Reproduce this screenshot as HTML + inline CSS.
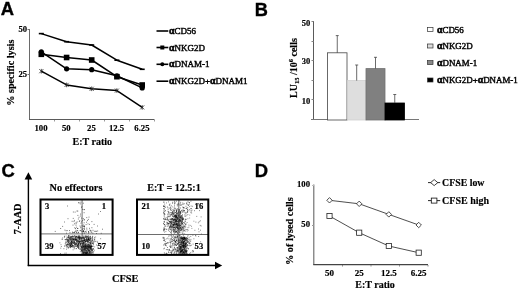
<!DOCTYPE html>
<html><head><meta charset="utf-8"><title>Figure</title>
<style>html,body{margin:0;padding:0;background:#fff}svg{display:block}</style></head>
<body><svg width="520" height="289" viewBox="0 0 520 289">
<rect width="520" height="289" fill="#fff"/>
<g>
<line x1="29.5" y1="29" x2="29.5" y2="120" stroke="#6a6a6a" stroke-width="1"/>
<line x1="29" y1="119.5" x2="154.5" y2="119.5" stroke="#5a5a5a" stroke-width="1"/>
<line x1="27.5" y1="29.5" x2="29.5" y2="29.5" stroke="#777" stroke-width="1"/>
<line x1="27.5" y1="74.5" x2="29.5" y2="74.5" stroke="#777" stroke-width="1"/>
<line x1="54.5" y1="120" x2="54.5" y2="121.5" stroke="#999" stroke-width="1"/>
<line x1="79.5" y1="120" x2="79.5" y2="121.5" stroke="#999" stroke-width="1"/>
<line x1="104.5" y1="120" x2="104.5" y2="121.5" stroke="#999" stroke-width="1"/>
<line x1="129.5" y1="120" x2="129.5" y2="121.5" stroke="#999" stroke-width="1"/>
<line x1="154.5" y1="120" x2="154.5" y2="121.5" stroke="#999" stroke-width="1"/>
<line x1="313.5" y1="21" x2="313.5" y2="120" stroke="#5a5a5a" stroke-width="1"/>
<line x1="311" y1="119.5" x2="419" y2="119.5" stroke="#777" stroke-width="1"/>
<line x1="311.5" y1="99.5" x2="313.5" y2="99.5" stroke="#888" stroke-width="1"/>
<line x1="311.5" y1="80.5" x2="313.5" y2="80.5" stroke="#888" stroke-width="1"/>
<line x1="311.5" y1="60.5" x2="313.5" y2="60.5" stroke="#888" stroke-width="1"/>
<line x1="311.5" y1="41.5" x2="313.5" y2="41.5" stroke="#888" stroke-width="1"/>
<line x1="311.5" y1="21.5" x2="313.5" y2="21.5" stroke="#888" stroke-width="1"/>
<line x1="313.8" y1="184.5" x2="313.8" y2="265" stroke="#666" stroke-width="1.1"/>
<line x1="313.3" y1="264.6" x2="428" y2="264.6" stroke="#444" stroke-width="1.3"/>
<line x1="312" y1="185.5" x2="314" y2="185.5" stroke="#bbb" stroke-width="1"/>
<line x1="312" y1="225.5" x2="314" y2="225.5" stroke="#999" stroke-width="1"/>
<line x1="342.5" y1="265" x2="342.5" y2="266.5" stroke="#888" stroke-width="1"/>
<line x1="371.0" y1="265" x2="371.0" y2="266.5" stroke="#888" stroke-width="1"/>
<line x1="399.5" y1="265" x2="399.5" y2="266.5" stroke="#888" stroke-width="1"/>
<line x1="428.0" y1="265" x2="428.0" y2="266.5" stroke="#888" stroke-width="1"/>
</g>
<g filter="url(#bl)">
<text x="0.8" y="14.8" font-size="18.4" text-anchor="start" style="font-family:'Liberation Sans',sans-serif;font-weight:bold" stroke="#000" stroke-width="0.35">A</text>
<text x="254.8" y="16.2" font-size="18.2" text-anchor="start" style="font-family:'Liberation Sans',sans-serif;font-weight:bold" stroke="#000" stroke-width="0.35">B</text>
<text x="1.6" y="177.4" font-size="18.4" text-anchor="start" style="font-family:'Liberation Sans',sans-serif;font-weight:bold" stroke="#000" stroke-width="0.35">C</text>
<text x="254.8" y="177.4" font-size="18.4" text-anchor="start" style="font-family:'Liberation Sans',sans-serif;font-weight:bold" stroke="#000" stroke-width="0.35">D</text>
<text x="27.1" y="32" font-size="8.6" text-anchor="end" style="font-family:'Liberation Serif',serif;font-weight:bold"  stroke="#000" stroke-width="0.18">50</text>
<text x="27.1" y="77" font-size="8.6" text-anchor="end" style="font-family:'Liberation Serif',serif;font-weight:bold"  stroke="#000" stroke-width="0.18">25</text>
<text transform="translate(14,72.7) rotate(-90)" font-size="10.2" text-anchor="middle" style="font-family:'Liberation Serif',serif;font-weight:bold" stroke="#000" stroke-width="0.18">% specific lysis</text>
<text x="41.0" y="131.4" font-size="8.7" text-anchor="middle" style="font-family:'Liberation Serif',serif;font-weight:bold"  stroke="#000" stroke-width="0.18">100</text>
<text x="66.3" y="131.4" font-size="8.7" text-anchor="middle" style="font-family:'Liberation Serif',serif;font-weight:bold"  stroke="#000" stroke-width="0.18">50</text>
<text x="91.4" y="131.4" font-size="8.7" text-anchor="middle" style="font-family:'Liberation Serif',serif;font-weight:bold"  stroke="#000" stroke-width="0.18">25</text>
<text x="116.60000000000001" y="131.4" font-size="8.7" text-anchor="middle" style="font-family:'Liberation Serif',serif;font-weight:bold"  stroke="#000" stroke-width="0.18">12.5</text>
<text x="141.89999999999998" y="131.4" font-size="8.7" text-anchor="middle" style="font-family:'Liberation Serif',serif;font-weight:bold"  stroke="#000" stroke-width="0.18">6.25</text>
<text x="92.3" y="145.4" font-size="10" text-anchor="middle" style="font-family:'Liberation Serif',serif;font-weight:bold"  stroke="#000" stroke-width="0.18">E:T ratio</text>
<polyline fill="none" stroke="#000" stroke-width="1.5" stroke-linejoin="round" points="41.3,33.6 66.6,41.7 91.7,45 116.9,60.2 142.2,69.3"/>
<line x1="38.8" y1="33.6" x2="43.8" y2="33.6" stroke="#000" stroke-width="1.6" />
<line x1="64.1" y1="41.7" x2="69.1" y2="41.7" stroke="#000" stroke-width="1.6" />
<line x1="89.2" y1="45" x2="94.2" y2="45" stroke="#000" stroke-width="1.6" />
<line x1="114.4" y1="60.2" x2="119.4" y2="60.2" stroke="#000" stroke-width="1.6" />
<line x1="139.7" y1="69.3" x2="144.7" y2="69.3" stroke="#000" stroke-width="1.6" />
<polyline fill="none" stroke="#000" stroke-width="1.5" stroke-linejoin="round" points="41.3,54.3 66.6,57.5 91.7,60 116.9,76.7 142.2,85"/>
<rect x="38.5" y="51.5" width="5.6" height="5.6" fill="#000"/>
<rect x="63.8" y="54.7" width="5.6" height="5.6" fill="#000"/>
<rect x="88.9" y="57.2" width="5.6" height="5.6" fill="#000"/>
<rect x="114.10000000000001" y="73.9" width="5.6" height="5.6" fill="#000"/>
<rect x="139.39999999999998" y="82.2" width="5.6" height="5.6" fill="#000"/>
<polyline fill="none" stroke="#000" stroke-width="1.5" stroke-linejoin="round" points="41.3,51.8 66.6,68.8 91.7,69.7 116.9,75.8 142.2,87.9"/>
<circle cx="41.3" cy="51.8" r="2.6" fill="#000"/>
<circle cx="66.6" cy="68.8" r="2.6" fill="#000"/>
<circle cx="91.7" cy="69.7" r="2.6" fill="#000"/>
<circle cx="116.9" cy="75.8" r="2.6" fill="#000"/>
<circle cx="142.2" cy="87.9" r="2.6" fill="#000"/>
<polyline fill="none" stroke="#000" stroke-width="1.5" stroke-linejoin="round" points="41.3,71.2 66.6,84.9 91.7,88.8 116.9,90.6 142.2,107.4"/>
<line x1="39.3" y1="69.2" x2="43.3" y2="73.2" stroke="#222" stroke-width="0.8" />
<line x1="39.3" y1="73.2" x2="43.3" y2="69.2" stroke="#222" stroke-width="0.8" />
<line x1="41.3" y1="68.9" x2="41.3" y2="73.5" stroke="#222" stroke-width="0.8" />
<line x1="64.6" y1="82.9" x2="68.6" y2="86.9" stroke="#222" stroke-width="0.8" />
<line x1="64.6" y1="86.9" x2="68.6" y2="82.9" stroke="#222" stroke-width="0.8" />
<line x1="66.6" y1="82.60000000000001" x2="66.6" y2="87.2" stroke="#222" stroke-width="0.8" />
<line x1="89.7" y1="86.8" x2="93.7" y2="90.8" stroke="#222" stroke-width="0.8" />
<line x1="89.7" y1="90.8" x2="93.7" y2="86.8" stroke="#222" stroke-width="0.8" />
<line x1="91.7" y1="86.5" x2="91.7" y2="91.1" stroke="#222" stroke-width="0.8" />
<line x1="114.9" y1="88.6" x2="118.9" y2="92.6" stroke="#222" stroke-width="0.8" />
<line x1="114.9" y1="92.6" x2="118.9" y2="88.6" stroke="#222" stroke-width="0.8" />
<line x1="116.9" y1="88.3" x2="116.9" y2="92.89999999999999" stroke="#222" stroke-width="0.8" />
<line x1="140.2" y1="105.4" x2="144.2" y2="109.4" stroke="#222" stroke-width="0.8" />
<line x1="140.2" y1="109.4" x2="144.2" y2="105.4" stroke="#222" stroke-width="0.8" />
<line x1="142.2" y1="105.10000000000001" x2="142.2" y2="109.7" stroke="#222" stroke-width="0.8" />
<line x1="156.5" y1="31" x2="168.3" y2="31" stroke="#000" stroke-width="1.6" />
<text x="169" y="34" font-size="9.0" text-anchor="start" style="font-family:'Liberation Serif',serif;font-weight:normal" stroke="#000" stroke-width="0.42"><tspan font-weight="bold" font-size="9.8" stroke-width="0.55">α</tspan>CD56</text>
<line x1="156.5" y1="47.5" x2="168.3" y2="47.5" stroke="#000" stroke-width="1.6" />
<text x="169" y="50.5" font-size="9.0" text-anchor="start" style="font-family:'Liberation Serif',serif;font-weight:normal" stroke="#000" stroke-width="0.42"><tspan font-weight="bold" font-size="9.8" stroke-width="0.55">α</tspan>NKG2D</text>
<line x1="156.5" y1="64.3" x2="168.3" y2="64.3" stroke="#000" stroke-width="1.6" />
<text x="169" y="67.3" font-size="9.0" text-anchor="start" style="font-family:'Liberation Serif',serif;font-weight:normal" stroke="#000" stroke-width="0.42"><tspan font-weight="bold" font-size="9.8" stroke-width="0.55">α</tspan>DNAM-1</text>
<line x1="156.5" y1="81.2" x2="168.3" y2="81.2" stroke="#000" stroke-width="1.6" />
<text x="169" y="84.2" font-size="9.0" text-anchor="start" style="font-family:'Liberation Serif',serif;font-weight:normal" stroke="#000" stroke-width="0.42"><tspan font-weight="bold" font-size="9.8" stroke-width="0.55">α</tspan>NKG2D+<tspan font-weight="bold" font-size="9.8" stroke-width="0.55">α</tspan>DNAM1</text>
<rect x="160.3" y="45.5" width="4" height="4" fill="#000"/>
<circle cx="162.3" cy="64.3" r="2" fill="#000"/>
<text x="310.2" y="25.8" font-size="8.5" text-anchor="end" style="font-family:'Liberation Serif',serif;font-weight:bold"  stroke="#000" stroke-width="0.18">50</text>
<text x="310.2" y="64.4" font-size="8.5" text-anchor="end" style="font-family:'Liberation Serif',serif;font-weight:bold"  stroke="#000" stroke-width="0.18">30</text>
<text x="310.2" y="103.7" font-size="8.5" text-anchor="end" style="font-family:'Liberation Serif',serif;font-weight:bold"  stroke="#000" stroke-width="0.18">10</text>
<text transform="translate(296.5,68.05) rotate(-90)" font-size="10" text-anchor="middle" style="font-family:'Liberation Serif',serif;font-weight:bold" stroke="#000" stroke-width="0.18">LU<tspan font-size="6.5" dy="2">15</tspan><tspan dy="-2"> /10</tspan><tspan font-size="6.5" dy="-4">6</tspan><tspan dy="4"> cells</tspan></text>
<rect x="327.5" y="52.8" width="19.5" height="67.2" fill="#fff" stroke="#444" stroke-width="0.8"/>
<line x1="337.25" y1="52.8" x2="337.25" y2="35.6" stroke="#444" stroke-width="0.8" />
<line x1="335.75" y1="35.6" x2="338.75" y2="35.6" stroke="#444" stroke-width="0.8" />
<rect x="347.4" y="80.6" width="18.600000000000023" height="39.400000000000006" fill="#dedede" stroke="#d0d0d0" stroke-width="0.8"/>
<line x1="356.7" y1="80.6" x2="356.7" y2="65" stroke="#444" stroke-width="0.8" />
<line x1="355.2" y1="65" x2="358.2" y2="65" stroke="#444" stroke-width="0.8" />
<rect x="366" y="68.6" width="19" height="51.400000000000006" fill="#808080" stroke="#707070" stroke-width="0.8"/>
<line x1="375.5" y1="68.6" x2="375.5" y2="57.3" stroke="#444" stroke-width="0.8" />
<line x1="374.0" y1="57.3" x2="377.0" y2="57.3" stroke="#444" stroke-width="0.8" />
<rect x="385" y="103" width="19.5" height="17" fill="#000" stroke="#000" stroke-width="0.8"/>
<line x1="394.75" y1="103" x2="394.75" y2="94.5" stroke="#444" stroke-width="0.8" />
<line x1="393.25" y1="94.5" x2="396.25" y2="94.5" stroke="#444" stroke-width="0.8" />
<rect x="427.5" y="27.6" width="5.5" height="4" fill="#fff" stroke="#333" stroke-width="0.7"/>
<text x="437" y="32.6" font-size="8.92" text-anchor="start" style="font-family:'Liberation Serif',serif;font-weight:normal" stroke="#000" stroke-width="0.42"><tspan font-weight="bold" font-size="9.8" stroke-width="0.55">α</tspan>CD56</text>
<rect x="427.5" y="44" width="5.5" height="4" fill="#dcdcdc" stroke="#333" stroke-width="0.7"/>
<text x="437" y="49" font-size="8.92" text-anchor="start" style="font-family:'Liberation Serif',serif;font-weight:normal" stroke="#000" stroke-width="0.42"><tspan font-weight="bold" font-size="9.8" stroke-width="0.55">α</tspan>NKG2D</text>
<rect x="427.5" y="60.6" width="5.5" height="4" fill="#888" stroke="#333" stroke-width="0.7"/>
<text x="437" y="65.6" font-size="8.92" text-anchor="start" style="font-family:'Liberation Serif',serif;font-weight:normal" stroke="#000" stroke-width="0.42"><tspan font-weight="bold" font-size="9.8" stroke-width="0.55">α</tspan>DNAM-1</text>
<rect x="427.5" y="78" width="5.5" height="4" fill="#000" stroke="#333" stroke-width="0.7"/>
<text x="437" y="83" font-size="8.92" text-anchor="start" style="font-family:'Liberation Serif',serif;font-weight:normal" stroke="#000" stroke-width="0.42"><tspan font-weight="bold" font-size="9.8" stroke-width="0.55">α</tspan>NKG2D+<tspan font-weight="bold" font-size="9.8" stroke-width="0.55">α</tspan>DNAM-1</text>
<line x1="28.4" y1="178" x2="28.4" y2="266.1" stroke="#000" stroke-width="1.4" />
<polygon points="28.4,172.2 24.6,179.6 32.2,179.6" fill="#000"/>
<line x1="27.7" y1="265.5" x2="216" y2="265.5" stroke="#000" stroke-width="1.3" />
<polygon points="222.2,265.5 215,261.7 215,269.3" fill="#000"/>
<text transform="translate(21.3,218.9) rotate(-90)" font-size="10.25" text-anchor="middle" style="font-family:'Liberation Serif',serif;font-weight:bold" stroke="#000" stroke-width="0.18">7-AAD</text>
<text x="125.2" y="281.7" font-size="10.4" text-anchor="middle" style="font-family:'Liberation Serif',serif;font-weight:bold"  stroke="#000" stroke-width="0.18">CFSE</text>
<text x="76" y="191.2" font-size="10.3" text-anchor="middle" style="font-family:'Liberation Serif',serif;font-weight:bold"  stroke="#000" stroke-width="0.18">No effectors</text>
<text x="174" y="191.2" font-size="10.1" text-anchor="middle" style="font-family:'Liberation Serif',serif;font-weight:bold"  stroke="#000" stroke-width="0.18">E:T = 12.5:1</text>
<path d="M76.4 238.2h.8M80.1 241.9h.8M67.4 237.3h.8M78.0 238.2h.8M84.5 240.1h.8M94.2 239.9h.8M71.6 245.6h.8M69.7 239.5h.8M81.2 238.6h.8M82.8 242.9h.8M77.5 245.4h.8M71.5 245.1h.8M84.2 240.2h.8M77.5 240.9h.8M66.7 240.9h.8M88.0 244.0h.8M78.7 246.9h.8M78.6 243.5h.8M86.0 239.2h.8M76.5 241.0h.8M71.6 244.7h.8M70.3 246.6h.8M67.2 246.1h.8M88.3 240.1h.8M78.8 236.2h.8M71.5 242.2h.8M81.7 240.8h.8M72.8 242.7h.8M78.2 235.8h.8M90.1 242.8h.8M76.2 243.3h.8M69.5 238.2h.8M75.5 237.8h.8M69.3 245.8h.8M83.0 240.6h.8M78.2 248.3h.8M78.0 237.3h.8M75.3 239.8h.8M69.3 237.4h.8M82.4 247.0h.8M88.2 239.4h.8M71.4 243.4h.8M75.7 248.6h.8M89.3 242.5h.8M71.3 236.4h.8M67.5 244.4h.8M87.6 247.6h.8M90.2 239.2h.8M72.5 247.3h.8M85.8 245.0h.8M67.4 242.8h.8M84.8 244.8h.8M76.6 237.9h.8M79.3 237.5h.8M72.1 246.7h.8M72.6 240.8h.8M75.0 236.2h.8M90.2 245.3h.8M79.8 237.1h.8M73.0 243.2h.8M72.8 246.3h.8M73.9 246.3h.8M79.1 241.4h.8M81.7 238.3h.8M67.4 240.7h.8M83.9 241.5h.8M81.0 241.8h.8M72.8 243.4h.8M81.3 238.8h.8M80.5 243.6h.8M76.6 246.1h.8M87.0 237.3h.8M83.7 237.0h.8M69.5 238.9h.8M67.6 244.4h.8M70.4 236.3h.8M90.1 246.3h.8M72.4 245.4h.8M69.4 240.4h.8M70.9 237.9h.8M80.6 239.8h.8M82.1 246.8h.8M87.4 239.0h.8M68.2 236.8h.8M79.9 238.0h.8M72.4 243.1h.8M71.4 241.3h.8M70.8 244.3h.8M69.4 245.2h.8M77.3 247.3h.8M75.0 239.7h.8M70.0 238.7h.8M73.9 240.9h.8M80.1 237.2h.8M75.7 242.3h.8M68.3 237.7h.8M85.9 245.7h.8M74.5 246.7h.8M76.7 241.7h.8M76.8 237.9h.8M68.7 237.2h.8M70.8 241.7h.8M74.1 242.0h.8M69.8 246.8h.8M90.2 246.4h.8M74.7 240.4h.8M77.9 241.6h.8M67.1 240.9h.8M69.3 238.8h.8M79.2 243.0h.8M86.0 239.0h.8M93.0 244.4h.8M69.7 241.2h.8M85.7 241.4h.8M81.0 243.6h.8M83.4 242.7h.8M73.5 240.2h.8M70.6 241.9h.8M86.9 240.8h.8M85.7 239.6h.8M68.6 240.0h.8M87.2 240.2h.8M77.9 241.3h.8M83.8 239.2h.8M84.9 237.6h.8M68.3 245.2h.8M83.4 242.4h.8M81.0 239.8h.8M91.7 241.1h.8M89.1 238.9h.8M73.2 242.2h.8M66.9 237.3h.8M84.4 243.7h.8M74.2 235.8h.8M65.4 239.5h.8M69.8 246.0h.8M89.4 237.2h.8M72.0 244.8h.8M74.9 237.1h.8M70.2 245.6h.8M73.1 239.4h.8M79.3 244.4h.8M85.8 240.9h.8M87.3 241.6h.8M85.1 236.1h.8M91.4 240.7h.8M74.2 236.3h.8M82.8 241.7h.8M71.7 246.6h.8M80.0 249.1h.8M78.9 237.7h.8M76.5 239.4h.8M83.1 239.6h.8M75.9 239.7h.8M67.9 240.1h.8M77.5 237.1h.8M73.8 242.0h.8M67.0 239.3h.8M83.2 246.2h.8M90.1 236.8h.8M70.8 244.6h.8M90.2 243.0h.8M78.0 244.6h.8M74.7 238.8h.8M70.2 245.2h.8M71.5 243.0h.8M77.0 237.7h.8M70.9 243.8h.8M88.0 239.0h.8M78.7 238.0h.8M84.6 236.2h.8M73.5 239.1h.8M86.8 237.2h.8M90.2 240.4h.8M72.6 245.6h.8M79.8 241.4h.8M84.4 240.3h.8M73.1 236.7h.8M66.0 247.1h.8M88.8 239.7h.8M73.9 235.9h.8M82.6 240.5h.8M72.4 240.0h.8M93.6 240.3h.8M77.1 239.2h.8M66.8 246.3h.8M69.7 238.1h.8M71.0 239.8h.8M86.8 238.6h.8M90.1 243.4h.8M74.9 244.4h.8M69.1 246.9h.8M76.7 242.6h.8M91.3 245.8h.8M87.9 238.4h.8M73.3 238.4h.8M72.0 236.1h.8M66.6 246.5h.8M90.3 237.0h.8M67.1 241.0h.8M71.0 244.2h.8M87.0 236.3h.8M87.5 241.5h.8M85.8 239.6h.8M72.3 238.9h.8M78.7 238.6h.8M80.1 244.3h.8M67.8 238.7h.8M88.3 239.1h.8M87.5 244.8h.8M92.2 243.7h.8M71.9 238.8h.8M71.6 237.5h.8M66.2 239.5h.8M75.6 243.8h.8M69.8 242.7h.8M83.7 244.0h.8M77.0 247.3h.8M73.5 240.3h.8M90.0 238.3h.8M85.2 246.0h.8M78.2 244.8h.8M78.7 242.3h.8M83.6 242.7h.8M75.4 239.2h.8M80.7 241.3h.8M88.1 237.4h.8M92.3 236.6h.8M87.7 244.3h.8M89.0 240.1h.8M78.7 236.6h.8M71.0 241.1h.8M70.1 247.5h.8M65.7 236.0h.8M89.5 243.1h.8M82.1 243.5h.8M76.8 240.0h.8M66.3 238.0h.8M86.4 237.1h.8M79.4 241.2h.8M67.6 237.1h.8M85.0 245.4h.8M81.5 240.7h.8M92.7 248.4h.8M85.7 246.2h.8M82.5 237.4h.8M87.2 239.8h.8M87.6 241.0h.8M88.5 247.1h.8M72.1 240.8h.8M68.3 246.9h.8M84.7 244.3h.8M67.8 239.8h.8M87.0 245.3h.8M71.7 240.4h.8M86.5 245.5h.8M76.2 237.0h.8M88.2 239.5h.8M85.0 243.2h.8M75.2 237.8h.8M80.8 246.4h.8M70.6 237.9h.8M66.6 240.4h.8M70.9 237.7h.8M81.8 246.4h.8M73.5 243.5h.8M89.1 238.1h.8M66.1 239.0h.8M79.8 244.9h.8M73.6 241.8h.8M77.2 245.0h.8M63.9 237.0h.8M70.6 242.4h.8M87.9 240.2h.8M70.2 242.8h.8M68.5 239.9h.8M84.5 237.5h.8M74.1 244.5h.8M85.7 237.8h.8M78.4 242.5h.8M71.2 236.5h.8M90.2 238.8h.8M87.9 239.2h.8M88.5 246.7h.8M82.0 245.4h.8M80.0 244.2h.8M77.6 238.2h.8M71.9 245.8h.8M71.3 246.3h.8M75.8 236.8h.8M82.8 243.0h.8M67.4 244.5h.8M87.9 245.3h.8M90.5 238.3h.8M72.6 245.4h.8M83.8 238.0h.8M71.6 239.4h.8M74.7 239.1h.8M73.8 238.7h.8M88.2 242.8h.8M66.4 245.1h.8M75.1 237.3h.8M90.9 239.0h.8M67.8 248.4h.8M65.4 244.9h.8M70.2 245.2h.8M74.7 238.2h.8M83.8 243.1h.8M69.6 243.2h.8M81.8 241.3h.8M92.0 237.6h.8M71.9 243.8h.8M77.3 240.7h.8M80.4 241.5h.8M75.3 245.8h.8M83.5 240.3h.8M85.7 240.9h.8M89.2 240.1h.8M85.1 237.4h.8M72.3 239.0h.8M76.7 246.6h.8M70.2 240.2h.8M92.3 239.3h.8M71.4 238.1h.8M78.2 245.0h.8M82.2 241.2h.8M69.3 243.6h.8M87.9 244.8h.8M77.9 247.3h.8M85.4 241.7h.8M81.8 243.2h.8M67.2 244.7h.8M82.7 242.2h.8M80.6 247.1h.8M70.1 239.0h.8M79.7 242.0h.8M71.7 239.5h.8M67.9 243.4h.8M78.0 240.4h.8M78.2 243.4h.8M76.9 246.3h.8M77.0 240.8h.8M66.0 244.3h.8M75.7 244.9h.8M89.5 244.7h.8M77.0 245.1h.8M86.1 241.4h.8M74.0 242.9h.8M88.1 238.4h.8M82.7 241.4h.8M88.1 239.9h.8M77.7 244.1h.8M74.1 242.2h.8M76.3 239.0h.8M90.5 244.9h.8M89.8 244.6h.8M83.1 246.5h.8M83.4 238.2h.8M73.1 236.9h.8M89.8 245.2h.8M82.6 244.4h.8M87.2 243.1h.8M80.2 244.7h.8M80.8 238.4h.8M80.9 238.2h.8M77.4 245.5h.8M68.1 241.3h.8M84.4 239.9h.8M92.9 243.7h.8M66.0 245.3h.8M77.0 241.3h.8M91.8 243.3h.8M76.4 240.6h.8M80.3 240.2h.8M74.9 238.7h.8M86.2 239.8h.8M81.8 244.5h.8M74.8 243.3h.8M83.0 243.7h.8M88.7 239.4h.8M68.4 244.9h.8M84.2 240.7h.8M80.8 241.5h.8M84.5 242.6h.8M86.8 237.0h.8M88.2 239.4h.8M88.0 237.7h.8M73.4 241.3h.8M83.5 242.2h.8M70.0 243.7h.8M89.7 240.4h.8M85.7 240.3h.8M79.0 239.4h.8M70.9 243.6h.8M70.7 245.5h.8M72.6 239.0h.8M85.5 244.9h.8M86.3 235.8h.8M82.3 245.2h.8M75.7 236.0h.8M74.7 244.9h.8M80.5 242.8h.8M77.6 244.3h.8M74.8 239.6h.8M77.5 242.3h.8M81.0 247.1h.8M85.2 241.9h.8M92.4 238.4h.8M78.8 243.0h.8M84.2 238.2h.8M66.9 243.6h.8M87.7 245.0h.8M88.6 238.2h.8M89.1 244.6h.8M77.3 245.5h.8M72.0 236.4h.8M81.4 237.4h.8M73.4 239.4h.8M70.1 237.1h.8M84.0 240.6h.8M78.1 237.9h.8M71.1 241.4h.8M76.2 236.6h.8M91.4 243.4h.8M87.8 241.0h.8M80.4 246.9h.8M86.7 239.1h.8M83.2 245.6h.8M88.6 236.4h.8M72.3 237.1h.8M82.1 245.6h.8M91.6 241.0h.8M71.1 242.1h.8M85.2 240.0h.8M80.3 249.1h.8M73.7 240.2h.8M86.1 245.4h.8M69.9 247.7h.8M83.3 245.7h.8M69.1 238.2h.8M79.6 238.4h.8M86.3 238.4h.8M68.9 246.0h.8M89.3 240.7h.8M72.0 242.2h.8M76.8 242.9h.8M83.4 237.4h.8M84.1 245.4h.8M72.9 239.4h.8M87.5 242.0h.8M75.6 246.5h.8M70.2 237.6h.8M78.7 239.1h.8M81.4 246.0h.8M68.7 238.9h.8M84.0 239.0h.8M86.7 236.7h.8M86.9 240.8h.8M90.2 239.0h.8M71.8 236.8h.8M70.7 242.3h.8M74.4 245.2h.8M86.4 236.6h.8M83.3 237.7h.8M85.8 247.2h.8M82.6 241.6h.8M88.7 245.8h.8M76.9 243.4h.8M65.5 241.6h.8M69.4 243.8h.8M74.7 243.4h.8M71.1 239.8h.8M78.0 236.2h.8M91.3 237.9h.8M73.4 237.0h.8M84.6 242.9h.8M79.1 237.1h.8M88.6 237.2h.8M78.1 237.5h.8M78.5 246.5h.8M68.5 237.2h.8M89.0 240.4h.8M86.5 246.2h.8M85.8 240.4h.8M80.6 245.8h.8M87.7 241.5h.8M92.0 240.5h.8M81.6 237.9h.8M77.5 237.7h.8M91.8 240.7h.8M82.8 240.7h.8M82.4 238.3h.8M76.6 240.3h.8M74.2 242.2h.8M89.7 241.2h.8M80.8 238.0h.8M73.3 239.3h.8M66.4 242.2h.8M80.7 243.3h.8M76.5 240.9h.8M74.8 242.4h.8M76.4 239.9h.8M88.7 242.8h.8M75.4 244.5h.8M73.7 241.8h.8M67.3 244.8h.8M70.3 246.7h.8M70.1 244.3h.8M84.0 240.3h.8M85.4 239.6h.8M91.3 242.6h.8M81.3 240.4h.8M88.0 239.3h.8M76.0 239.8h.8M75.4 239.3h.8M87.7 240.0h.8M71.3 242.9h.8M84.4 240.9h.8M90.1 236.3h.8M77.8 236.6h.8M77.7 244.6h.8M82.3 241.8h.8M83.0 243.2h.8M77.9 241.4h.8M68.4 243.0h.8M84.2 239.7h.8M74.5 237.6h.8M80.6 239.1h.8M92.3 236.3h.8M88.3 245.2h.8M88.4 239.6h.8M78.8 238.2h.8M81.6 246.4h.8M84.4 245.0h.8M74.6 239.4h.8M86.1 237.6h.8M78.3 242.9h.8M82.2 240.6h.8M71.4 238.8h.8M70.4 246.2h.8M82.5 236.0h.8M85.2 241.4h.8M71.2 246.4h.8M80.6 241.3h.8M69.9 245.7h.8M77.2 236.2h.8M91.1 245.2h.8M86.7 247.9h.8M80.5 240.2h.8M85.2 246.5h.8M79.4 237.4h.8M77.5 241.8h.8M82.4 241.2h.8M77.8 245.3h.8M75.8 239.9h.8M75.1 240.2h.8M70.7 238.7h.8M89.0 246.0h.8M87.9 244.8h.8M77.4 246.3h.8M79.9 238.7h.8M84.4 244.7h.8M76.2 239.9h.8M90.1 242.9h.8M74.0 242.3h.8M80.6 238.1h.8M72.2 242.6h.8M68.4 241.2h.8M75.6 239.0h.8M69.9 239.8h.8M90.2 243.5h.8M70.2 243.8h.8M82.7 244.1h.8M84.5 241.9h.8M83.0 246.5h.8M85.3 236.4h.8M71.5 241.1h.8M67.2 239.5h.8M85.8 238.3h.8M88.1 235.9h.8M88.0 238.6h.8M70.0 245.4h.8M87.7 241.2h.8M86.3 236.5h.8M87.6 244.7h.8M86.5 239.9h.8M67.9 240.7h.8M92.0 237.9h.8M85.0 241.4h.8M90.0 237.9h.8M67.5 239.2h.8M76.3 244.6h.8M73.0 242.2h.8M89.6 246.4h.8M69.3 244.7h.8M80.8 242.8h.8M79.5 245.6h.8M69.5 239.3h.8M68.3 244.4h.8M79.2 241.8h.8M76.4 236.7h.8M91.8 243.5h.8M90.8 241.3h.8M78.5 237.5h.8M88.7 245.2h.8M83.3 238.4h.8M68.1 237.5h.8M69.8 244.7h.8M71.8 242.4h.8M76.3 241.4h.8M74.8 244.9h.8M74.9 243.3h.8M86.6 244.3h.8M78.5 239.4h.8M83.5 238.7h.8M78.7 236.5h.8M78.9 237.7h.8M89.6 239.4h.8M73.1 239.7h.8M73.4 245.7h.8M90.2 241.7h.8M80.5 237.7h.8M71.2 246.7h.8M92.4 242.5h.8M89.4 243.3h.8M71.1 240.3h.8M82.8 246.6h.8M68.5 242.4h.8M68.4 241.7h.8M75.5 240.2h.8M71.2 244.0h.8M70.5 236.6h.8M80.3 243.3h.8M72.0 241.5h.8M83.1 237.5h.8M79.2 243.0h.8M89.4 246.0h.8M70.3 237.2h.8M88.6 237.0h.8M87.4 240.5h.8M66.5 239.1h.8M81.9 243.8h.8M85.7 244.7h.8M71.2 243.5h.8M84.4 239.8h.8M87.7 236.2h.8M83.6 245.6h.8M71.8 238.3h.8M69.1 243.1h.8M70.6 244.9h.8M82.5 251.5h.8M85.2 247.2h.8M88.9 252.5h.8M91.0 246.1h.8M85.9 253.0h.8M91.1 246.3h.8M84.2 249.1h.8M84.8 247.3h.8M88.5 250.9h.8M83.8 248.6h.8M85.0 246.3h.8M82.3 248.9h.8M85.4 248.8h.8M81.0 250.6h.8M86.3 253.9h.8M82.1 247.2h.8M88.4 250.0h.8M85.2 250.6h.8M90.6 246.3h.8M86.4 252.2h.8M90.9 251.1h.8M83.6 248.3h.8M91.8 251.5h.8M82.7 252.1h.8M87.6 248.8h.8M87.2 249.2h.8M81.6 253.9h.8M87.5 248.9h.8M84.2 247.1h.8M82.7 253.0h.8M84.8 248.4h.8M83.8 246.5h.8M84.0 250.4h.8M93.1 248.7h.8M90.7 247.4h.8M87.3 253.9h.8M85.4 252.9h.8M81.0 249.9h.8M90.8 246.2h.8M84.1 248.1h.8M89.1 247.6h.8M89.0 252.9h.8M88.9 253.7h.8M89.7 246.6h.8M90.8 247.1h.8M82.7 250.3h.8M89.0 247.7h.8M82.8 252.0h.8M86.8 248.7h.8M83.1 249.3h.8M81.2 250.0h.8M87.0 248.1h.8M89.1 250.5h.8M92.1 246.4h.8M87.8 246.7h.8M82.1 247.1h.8M91.4 249.4h.8M88.3 250.7h.8M86.4 248.6h.8M87.9 248.1h.8M89.1 248.5h.8M87.5 253.8h.8M86.0 253.5h.8M84.3 246.1h.8M85.3 248.9h.8M90.2 247.8h.8M89.7 247.1h.8M82.3 250.0h.8M88.5 248.9h.8M85.7 247.4h.8M89.9 246.2h.8M89.3 247.9h.8M90.1 248.8h.8M89.9 249.7h.8M85.4 251.9h.8M81.9 251.2h.8M86.0 250.5h.8M85.5 253.4h.8M90.8 248.0h.8M83.6 249.5h.8M84.5 251.1h.8M86.6 254.0h.8M83.1 252.9h.8M90.3 248.1h.8M89.8 248.7h.8M85.7 253.1h.8M82.5 249.6h.8M86.1 253.1h.8M84.5 252.2h.8M89.8 247.5h.8M91.6 246.2h.8M82.6 253.8h.8M82.2 251.9h.8M82.2 247.3h.8M89.6 253.3h.8M89.6 253.1h.8M92.6 252.3h.8M88.9 246.3h.8M86.9 246.8h.8M83.0 253.9h.8M85.3 249.9h.8M82.5 249.4h.8M83.1 251.9h.8M86.1 246.9h.8M82.5 248.8h.8M83.8 253.7h.8M90.7 247.4h.8M83.3 246.6h.8M80.7 250.5h.8M85.2 246.1h.8M87.9 250.4h.8M87.5 253.9h.8M90.4 248.5h.8M84.7 253.8h.8M84.6 247.1h.8M92.8 246.0h.8M88.7 250.9h.8M85.0 247.9h.8M85.3 252.3h.8M92.6 246.4h.8M88.0 250.4h.8M86.4 253.8h.8M81.5 250.1h.8M85.4 254.0h.8M82.6 249.0h.8M87.5 249.1h.8M85.7 248.6h.8M86.9 250.3h.8M83.1 253.3h.8M85.9 251.8h.8M86.1 247.1h.8M91.4 250.2h.8M84.8 247.9h.8M82.9 252.6h.8M84.9 253.2h.8M88.9 246.3h.8M86.6 247.0h.8M81.2 248.0h.8M81.2 250.2h.8M88.0 246.7h.8M87.5 249.6h.8M86.5 252.4h.8M90.5 248.9h.8M88.4 247.9h.8M84.8 246.1h.8M84.6 250.6h.8M82.9 248.2h.8M86.6 247.9h.8M91.7 252.9h.8M84.5 249.4h.8M89.0 246.4h.8M85.4 248.9h.8M88.6 251.2h.8M91.2 248.8h.8M83.1 247.5h.8M90.4 251.7h.8M84.9 246.6h.8M88.5 249.0h.8M84.4 252.1h.8M81.8 250.7h.8M84.1 249.3h.8M87.0 253.1h.8M84.7 252.6h.8M88.6 251.9h.8M87.5 250.4h.8M90.0 252.2h.8M82.8 252.5h.8M83.0 246.7h.8M89.0 251.4h.8M88.8 249.9h.8M81.6 250.7h.8M90.8 252.5h.8M91.3 250.1h.8M82.4 253.9h.8M84.3 248.0h.8M91.6 250.4h.8M86.5 248.4h.8M90.8 252.4h.8M90.5 246.4h.8M87.9 249.0h.8M84.8 248.9h.8M90.0 247.6h.8M90.8 248.5h.8M87.0 249.3h.8M87.0 252.4h.8M85.4 251.7h.8M88.8 253.5h.8M85.4 253.0h.8M80.5 246.4h.8M91.3 246.6h.8M88.9 250.5h.8M92.4 250.0h.8M88.1 247.7h.8M89.4 247.2h.8M91.3 246.8h.8M90.3 253.6h.8M85.4 253.2h.8M87.9 247.2h.8M82.0 252.7h.8M84.3 247.9h.8M87.0 247.2h.8M92.5 248.6h.8M91.6 253.8h.8M87.4 246.3h.8M84.9 250.4h.8M81.8 249.7h.8M87.5 246.9h.8M91.0 247.0h.8M94.0 250.2h.8M84.5 248.8h.8M86.6 246.7h.8M86.6 252.9h.8M87.3 247.1h.8M84.2 253.1h.8M90.8 246.3h.8M90.5 253.7h.8M86.8 246.4h.8M84.4 249.6h.8M84.1 252.3h.8M83.9 246.6h.8M88.6 252.3h.8M88.6 249.7h.8M81.3 251.2h.8M82.8 250.6h.8M84.0 247.3h.8M84.5 253.5h.8M86.3 249.8h.8M81.0 246.8h.8M91.8 250.3h.8M83.7 249.7h.8M81.8 248.9h.8M83.3 249.2h.8M84.3 253.0h.8M87.4 253.1h.8M83.0 252.3h.8M87.0 251.5h.8M83.9 248.1h.8M81.1 249.1h.8M86.3 246.7h.8M90.0 247.9h.8M88.2 246.5h.8M82.2 250.8h.8M93.4 251.5h.8M90.5 248.7h.8M87.4 246.1h.8M92.0 249.3h.8M86.5 251.9h.8M89.1 247.2h.8M85.6 247.8h.8M85.6 253.8h.8M92.3 250.0h.8M88.4 253.3h.8M88.9 251.0h.8M89.8 252.3h.8M82.2 247.3h.8M90.6 251.4h.8M90.8 253.5h.8M92.7 252.0h.8M90.8 249.5h.8M88.6 252.3h.8M89.7 250.3h.8M94.3 246.9h.8M91.9 252.7h.8M83.0 247.6h.8M86.4 253.3h.8M90.1 251.7h.8M86.1 251.5h.8M89.3 252.6h.8M87.3 252.7h.8M86.0 250.8h.8M90.3 249.9h.8M81.6 246.9h.8M88.6 249.7h.8M85.8 247.7h.8M86.1 248.3h.8M81.0 248.2h.8M87.2 252.5h.8M83.4 251.5h.8M82.3 248.2h.8M90.9 248.9h.8M85.1 253.2h.8M84.6 250.0h.8M88.0 247.5h.8M90.1 247.3h.8M87.8 253.6h.8M86.3 252.5h.8M83.8 250.4h.8M91.0 250.1h.8M87.7 251.3h.8M81.2 251.0h.8M87.3 251.3h.8M87.8 249.0h.8M85.8 250.0h.8M83.0 253.8h.8M83.0 250.5h.8M84.6 252.0h.8M90.6 246.3h.8M82.9 247.1h.8M92.0 250.7h.8M87.1 246.4h.8" stroke="#000" stroke-opacity="0.6" stroke-width="0.8" fill="none"/>
<path d="M66.1 249.2h.8M73.9 239.2h.8M79.6 238.0h.8M69.0 241.3h.8M93.3 241.8h.8M60.2 253.5h.8M78.0 246.5h.8M62.3 237.9h.8M81.5 237.7h.8M86.7 248.6h.8M83.3 240.5h.8M78.6 239.3h.8M77.7 244.8h.8M76.1 248.6h.8M82.3 247.8h.8M85.2 241.6h.8M74.4 248.8h.8M85.0 245.9h.8M71.2 246.7h.8M86.7 241.9h.8M60.9 246.5h.8M76.7 246.2h.8M79.5 236.2h.8M65.1 239.8h.8M79.1 238.2h.8M64.5 253.2h.8M70.9 242.1h.8M73.7 239.6h.8M79.4 241.3h.8M85.0 236.1h.8M78.3 247.5h.8M90.4 246.2h.8M63.5 248.7h.8M85.6 246.3h.8M68.8 236.1h.8M80.5 237.1h.8M94.3 239.4h.8M73.6 248.0h.8M82.2 237.8h.8M67.1 241.6h.8M85.1 247.1h.8M88.5 245.5h.8M59.5 242.8h.8M72.5 236.1h.8M68.3 247.5h.8M87.7 250.3h.8M79.3 235.9h.8M89.6 249.9h.8M78.4 245.2h.8M64.1 236.2h.8M78.0 247.1h.8M79.7 245.6h.8M82.0 237.6h.8M77.8 240.8h.8M83.7 238.5h.8M93.1 243.2h.8M84.2 246.7h.8M89.1 245.4h.8M61.9 239.3h.8M97.2 245.8h.8M84.5 245.7h.8M72.7 239.0h.8M72.7 249.8h.8M82.6 253.4h.8M83.5 236.1h.8M96.0 245.0h.8M90.7 244.3h.8M75.8 244.0h.8M68.0 236.0h.8M70.3 239.9h.8M65.7 242.4h.8M97.1 242.7h.8M87.7 241.7h.8M82.8 242.8h.8M73.7 243.4h.8M64.5 245.6h.8M76.2 236.6h.8M75.5 246.3h.8M72.3 245.8h.8M84.6 252.2h.8M68.3 242.3h.8M84.0 251.9h.8M81.6 247.5h.8M64.6 239.6h.8M95.4 241.3h.8M100.3 238.7h.8M85.3 244.6h.8M98.9 244.0h.8M78.2 248.6h.8M86.3 250.3h.8M87.5 242.7h.8M85.0 244.0h.8M65.8 253.1h.8M82.7 236.8h.8M82.8 244.7h.8M88.8 251.6h.8M94.1 237.4h.8M60.6 244.7h.8M82.3 245.1h.8M68.0 240.2h.8M80.9 247.4h.8M100.7 244.7h.8M89.6 242.2h.8M77.9 237.1h.8M80.1 243.7h.8M82.0 250.8h.8M78.0 243.6h.8M76.1 243.4h.8M88.5 238.2h.8M87.0 245.3h.8M64.8 243.8h.8M81.1 247.3h.8M87.2 239.7h.8M89.6 247.9h.8M83.7 245.9h.8M66.2 245.2h.8M68.7 235.9h.8M75.5 243.8h.8M78.5 241.0h.8M69.1 244.1h.8M79.9 251.7h.8M75.0 236.7h.8M92.8 253.2h.8M76.1 241.7h.8M80.3 248.9h.8M68.0 235.6h.8M83.3 243.6h.8M96.8 241.4h.8M82.1 243.4h.8M81.8 251.8h.8M91.9 239.4h.8M85.8 240.7h.8M80.1 243.9h.8M79.2 240.2h.8M94.5 241.4h.8M86.0 253.0h.8M85.2 249.1h.8M92.8 249.5h.8M98.5 243.2h.8M61.6 239.2h.8M65.1 242.9h.8M64.1 237.0h.8M82.0 243.9h.8M71.0 241.6h.8M78.0 243.4h.8M78.9 241.7h.8M74.1 243.8h.8M75.0 239.7h.8M74.6 244.3h.8M91.4 241.9h.8M76.3 245.1h.8M81.7 240.7h.8M73.3 246.8h.8M79.4 239.6h.8M79.1 242.3h.8M83.4 244.3h.8M68.1 242.2h.8M67.5 247.5h.8M95.3 237.0h.8M78.5 241.5h.8M60.4 248.2h.8M64.4 246.4h.8M78.9 248.1h.8M73.9 247.3h.8M88.0 246.6h.8M93.5 242.0h.8M94.4 238.8h.8M79.1 238.2h.8M79.0 249.2h.8M86.2 243.6h.8" stroke="#000" stroke-opacity="0.7" stroke-width="0.8" fill="none"/>
<path d="M67.0 206.0h.8M100.0 211.5h.8M98.0 214.0h.8M64.0 222.0h.8M97.0 226.0h.8" stroke="#000" stroke-opacity="0.75" stroke-width="0.8" fill="none"/>
<path d="M83.9 209.6h.8M78.6 217.3h.8M88.6 217.1h.8M72.6 225.1h.8M84.6 232.3h.8M75.7 222.7h.8M60.3 228.5h.8M75.6 231.6h.8M75.6 225.2h.8M78.8 202.9h.8M91.5 227.7h.8M73.8 232.5h.8M76.6 230.9h.8M100.8 233.3h.8M75.5 230.2h.8M54.8 231.4h.8M76.3 227.2h.8M72.8 218.4h.8M81.0 218.1h.8M88.2 233.2h.8M82.2 220.6h.8M86.0 222.2h.8M75.7 223.7h.8M73.9 220.4h.8M83.9 229.5h.8M82.4 233.3h.8M83.5 228.6h.8M83.9 226.0h.8M79.4 220.7h.8M96.0 231.3h.8M77.9 232.3h.8M87.2 220.6h.8M80.5 227.0h.8M79.9 203.9h.8M82.0 228.9h.8M80.0 214.1h.8M90.6 230.7h.8M71.7 221.3h.8M86.5 229.9h.8M81.1 207.6h.8M74.6 231.6h.8M73.6 221.6h.8M83.5 231.3h.8M83.9 228.2h.8M76.7 221.9h.8M78.2 232.8h.8M84.0 233.3h.8M77.5 228.5h.8M87.9 219.4h.8M92.6 230.3h.8M77.1 228.5h.8M80.4 230.4h.8M79.9 216.0h.8M86.4 217.6h.8M83.1 230.7h.8M86.4 228.2h.8M75.2 228.5h.8M77.4 211.1h.8M71.9 232.9h.8M66.8 230.6h.8M76.7 233.2h.8M82.5 226.7h.8M83.6 219.8h.8M83.1 226.3h.8M82.2 231.4h.8M90.7 232.1h.8M74.3 232.7h.8M82.9 203.2h.8M85.7 224.6h.8M82.8 218.5h.8M93.7 224.4h.8M72.9 212.0h.8M91.4 232.2h.8M77.3 230.5h.8M85.1 231.4h.8M76.2 232.5h.8M89.5 230.1h.8M77.9 219.0h.8M73.3 232.6h.8M83.2 231.0h.8M78.9 221.5h.8M84.0 226.3h.8M93.9 231.3h.8M81.7 225.5h.8M66.0 233.2h.8M83.3 225.0h.8M69.2 230.6h.8M81.1 221.9h.8M88.2 231.8h.8M67.6 218.7h.8M74.7 212.1h.8M95.1 231.3h.8M65.7 230.7h.8M69.6 232.6h.8M90.2 230.8h.8M83.2 231.8h.8M80.9 231.2h.8M78.2 202.7h.8M80.4 227.8h.8M79.7 230.6h.8M62.3 226.4h.8M79.6 226.0h.8M83.7 222.8h.8M97.3 231.0h.8M84.0 226.8h.8M102.1 229.2h.8M74.4 227.8h.8M92.5 233.2h.8M89.0 228.3h.8M96.0 233.5h.8M80.6 223.2h.8M89.0 224.4h.8M84.0 219.8h.8M86.1 232.1h.8M88.1 231.7h.8M87.6 223.9h.8M83.6 209.6h.8M83.3 231.5h.8M74.0 223.8h.8M82.1 209.4h.8M91.5 221.6h.8M64.5 230.1h.8M80.5 202.2h.8M81.5 206.4h.8M88.5 232.3h.8M81.8 229.7h.8M76.6 211.0h.8M83.7 212.7h.8M77.5 215.4h.8M72.1 232.1h.8" stroke="#000" stroke-opacity="0.8" stroke-width="0.8" fill="none"/>
<line x1="82.1" y1="199.5" x2="82.1" y2="254.9" stroke="#484848" stroke-width="0.8" />
<line x1="40.5" y1="233.9" x2="112.6" y2="233.9" stroke="#484848" stroke-width="0.8" />
<rect x="40.5" y="199.5" width="72.1" height="55.400000000000006" fill="none" stroke="#000" stroke-width="2"/>
<text x="45" y="209.2" font-size="8.6" text-anchor="start" style="font-family:'Liberation Serif',serif;font-weight:bold"  stroke="#000" stroke-width="0.18">3</text>
<text x="106" y="209.2" font-size="8.6" text-anchor="end" style="font-family:'Liberation Serif',serif;font-weight:bold"  stroke="#000" stroke-width="0.18">1</text>
<text x="45" y="249.4" font-size="8.6" text-anchor="start" style="font-family:'Liberation Serif',serif;font-weight:bold"  stroke="#000" stroke-width="0.18">39</text>
<text x="106" y="249.4" font-size="8.6" text-anchor="end" style="font-family:'Liberation Serif',serif;font-weight:bold"  stroke="#000" stroke-width="0.18">57</text>
<path d="M185.5 252.0h.8M184.1 239.8h.8M181.5 246.0h.8M184.2 241.1h.8M185.6 249.8h.8M184.3 241.4h.8M185.9 239.0h.8M182.7 242.1h.8M181.7 240.4h.8M186.2 248.6h.8M181.3 241.6h.8M180.4 247.4h.8M181.9 240.2h.8M183.1 239.8h.8M183.5 248.2h.8M183.8 238.9h.8M182.4 241.1h.8M181.9 249.4h.8M185.7 245.0h.8M180.0 242.4h.8M180.4 247.2h.8M185.3 251.5h.8M184.7 238.8h.8M184.4 239.6h.8M183.1 242.4h.8M180.9 239.2h.8M182.9 246.4h.8M181.9 238.5h.8M182.7 252.9h.8M186.7 246.1h.8M184.1 246.7h.8M180.4 251.9h.8M182.1 243.9h.8M184.3 250.5h.8M185.7 252.0h.8M182.6 248.8h.8M183.3 242.8h.8M181.1 250.8h.8M181.0 242.5h.8M182.9 243.0h.8M182.3 243.9h.8M185.4 243.2h.8M180.3 252.0h.8M184.8 240.3h.8M186.3 237.7h.8M183.8 246.2h.8M182.1 246.5h.8M180.6 239.4h.8M183.8 247.9h.8M184.2 237.9h.8M177.7 241.0h.8M185.4 250.1h.8M181.5 246.0h.8M185.5 245.1h.8M180.5 253.3h.8M184.4 249.4h.8M182.1 250.6h.8M183.0 244.7h.8M182.4 250.7h.8M183.2 252.3h.8M184.3 245.3h.8M185.7 249.1h.8M185.7 243.3h.8M186.0 239.1h.8M179.9 246.7h.8M181.7 238.3h.8M186.6 251.2h.8M182.6 247.2h.8M182.2 253.6h.8M185.7 238.3h.8M178.8 242.9h.8M178.1 251.2h.8M187.2 240.8h.8M181.8 238.0h.8M183.2 242.1h.8M182.9 242.1h.8M184.0 248.7h.8M183.3 241.9h.8M180.0 244.9h.8M184.4 251.9h.8M186.9 250.9h.8M183.1 249.5h.8M186.7 238.9h.8M179.1 247.2h.8M181.0 251.3h.8M182.5 242.2h.8M180.3 253.4h.8M183.6 246.2h.8M184.1 253.7h.8M186.5 254.0h.8M183.7 253.3h.8M183.4 241.5h.8M183.6 243.1h.8M185.4 251.9h.8M180.4 251.0h.8M177.9 241.3h.8M183.1 246.9h.8M180.8 238.6h.8M184.4 238.2h.8M183.9 238.3h.8M186.6 250.6h.8M183.3 252.7h.8M180.8 241.7h.8M184.5 248.4h.8M185.0 244.0h.8M183.6 251.6h.8M179.3 246.1h.8M184.6 244.5h.8M182.4 244.0h.8M183.4 238.6h.8M184.3 239.2h.8M181.9 252.0h.8M179.1 237.1h.8M183.9 237.3h.8M181.9 241.0h.8M184.1 238.3h.8M184.1 238.8h.8M178.6 242.5h.8M182.7 245.1h.8M179.5 242.5h.8M185.7 240.1h.8M179.6 252.6h.8M179.6 249.7h.8M183.7 247.4h.8M184.9 245.0h.8M182.2 244.2h.8M179.7 244.9h.8M185.6 246.5h.8M180.0 240.8h.8M183.7 248.7h.8M185.5 243.7h.8M184.6 251.7h.8M181.4 242.9h.8M186.8 245.1h.8M184.8 247.7h.8M185.7 238.2h.8M179.8 244.3h.8M178.5 240.4h.8M185.0 244.0h.8M185.2 246.2h.8M182.3 250.3h.8M179.6 252.0h.8M183.7 237.6h.8M180.3 238.9h.8M183.7 243.6h.8M182.2 253.8h.8M186.1 252.6h.8M184.3 237.6h.8M184.6 248.4h.8M183.5 252.7h.8M183.8 237.3h.8M181.7 253.6h.8M185.8 250.9h.8M179.2 249.3h.8M185.2 250.4h.8M184.9 238.6h.8M185.3 251.1h.8M183.2 239.0h.8M183.5 237.0h.8M184.8 250.6h.8M184.2 253.8h.8M186.8 238.4h.8M183.5 240.8h.8M180.3 238.0h.8M184.7 239.2h.8M184.8 245.8h.8M184.7 242.7h.8M182.3 252.1h.8M180.2 251.4h.8M183.6 246.6h.8M179.7 238.7h.8M181.9 249.2h.8M184.6 247.5h.8M180.7 247.5h.8M179.4 246.6h.8M182.1 251.7h.8M184.3 252.9h.8M180.6 238.0h.8M182.7 246.2h.8M183.8 247.8h.8M182.8 250.4h.8M184.5 250.5h.8M180.4 238.9h.8M180.8 237.3h.8M182.5 237.1h.8M180.9 237.0h.8M181.7 241.1h.8M181.0 242.5h.8M180.2 251.2h.8M184.4 241.0h.8M185.5 244.8h.8M181.8 239.1h.8M181.2 246.5h.8M179.8 248.4h.8M184.9 247.5h.8M182.2 251.2h.8M185.4 252.4h.8M180.2 242.9h.8M180.4 251.6h.8M185.4 252.9h.8M180.6 246.8h.8M184.1 238.7h.8M185.7 240.1h.8M180.3 247.8h.8M184.3 251.5h.8M184.8 239.9h.8M182.3 239.5h.8M179.0 248.2h.8M181.7 240.7h.8M183.3 238.6h.8M183.3 247.2h.8M180.2 247.0h.8M182.4 242.8h.8M185.1 246.2h.8M185.7 253.8h.8M183.3 247.8h.8M185.6 253.5h.8M184.9 244.5h.8M182.3 250.3h.8M180.8 244.3h.8M183.3 249.3h.8M187.7 241.5h.8M184.0 245.4h.8M185.0 237.4h.8M183.0 246.1h.8M182.5 238.2h.8M181.4 244.5h.8M180.8 243.6h.8M180.5 237.3h.8M184.0 243.0h.8M181.6 249.6h.8M182.9 239.3h.8M180.9 243.3h.8M180.5 244.5h.8M184.9 253.4h.8M182.4 242.7h.8M178.9 253.3h.8M182.8 249.7h.8M181.9 247.9h.8M182.2 241.7h.8M185.1 240.8h.8M178.9 239.0h.8M181.2 250.5h.8M178.7 249.1h.8M185.6 239.0h.8M184.4 245.0h.8M186.8 245.1h.8M181.9 237.8h.8M181.5 251.9h.8M183.7 245.2h.8M182.3 238.8h.8M182.6 245.7h.8M182.9 251.6h.8M185.7 251.8h.8M180.5 241.1h.8M179.3 244.8h.8M182.6 239.4h.8M183.6 251.2h.8M185.6 252.7h.8M186.9 244.6h.8M181.7 249.6h.8M186.3 253.4h.8M186.3 244.7h.8M179.2 250.4h.8M181.1 241.8h.8M187.3 238.6h.8M184.6 244.2h.8M186.0 240.9h.8M181.7 238.5h.8M178.3 243.0h.8M185.9 237.6h.8M182.6 246.9h.8M182.4 242.6h.8M184.9 238.8h.8M179.5 241.5h.8M186.1 251.7h.8M180.0 250.5h.8M181.7 247.2h.8M180.9 240.7h.8M179.5 251.6h.8M178.9 237.2h.8M186.0 251.7h.8M181.0 250.5h.8M184.4 237.1h.8M183.1 247.4h.8M184.2 240.8h.8M183.9 238.4h.8M180.3 246.3h.8M183.6 253.4h.8M183.5 251.5h.8M183.2 244.4h.8M184.7 240.1h.8M183.3 242.5h.8M182.7 245.6h.8M181.5 247.2h.8M183.8 241.9h.8M181.5 245.7h.8M183.4 245.5h.8M183.5 241.3h.8M186.9 241.2h.8M178.8 247.7h.8M180.6 242.7h.8M181.4 248.6h.8M179.6 248.6h.8M184.7 238.8h.8M181.0 247.9h.8M183.6 252.7h.8M184.1 245.8h.8M181.0 244.9h.8M185.7 243.0h.8M180.9 247.6h.8M180.9 250.0h.8M180.5 237.5h.8M183.2 245.5h.8M179.1 244.7h.8M184.9 239.1h.8M185.4 246.3h.8M180.1 251.7h.8M181.9 250.7h.8M178.6 242.8h.8M180.9 251.7h.8M184.6 246.5h.8M185.9 247.5h.8M186.3 240.1h.8M182.5 239.5h.8M183.9 248.0h.8M185.9 250.1h.8M180.9 252.9h.8M182.0 238.4h.8M185.4 246.2h.8M187.8 245.4h.8M181.0 244.8h.8M180.2 244.1h.8M184.4 245.2h.8M184.5 238.1h.8M182.1 250.1h.8M181.5 238.5h.8M183.9 237.8h.8M183.1 247.6h.8M182.2 240.1h.8M183.3 239.2h.8M182.3 245.7h.8M183.3 245.4h.8M182.0 243.0h.8M179.8 253.9h.8M185.3 251.5h.8M181.0 250.7h.8M182.7 241.5h.8M184.2 246.2h.8M185.0 244.0h.8M181.4 238.3h.8M185.0 246.3h.8M184.4 238.2h.8M181.5 245.5h.8M180.3 240.8h.8M182.9 252.3h.8M187.8 241.7h.8M183.7 238.3h.8M183.4 253.3h.8M184.2 252.8h.8M180.5 251.4h.8M187.3 248.0h.8M183.1 244.2h.8M181.8 252.2h.8M181.5 237.1h.8M184.0 238.3h.8M179.0 252.3h.8M179.6 240.3h.8M184.2 238.0h.8M183.3 249.9h.8M185.5 251.0h.8M186.2 246.3h.8M184.6 250.7h.8M183.5 242.8h.8M181.3 251.6h.8M184.0 238.0h.8M182.8 242.6h.8M180.9 243.6h.8M185.0 246.1h.8M182.8 253.3h.8M181.8 245.9h.8M183.1 245.6h.8M185.3 244.3h.8M180.4 252.0h.8M179.7 248.0h.8M180.5 249.8h.8M183.4 244.1h.8M181.5 253.2h.8M180.8 239.3h.8M182.4 237.7h.8M185.2 243.2h.8M185.4 242.4h.8M184.0 241.8h.8M182.8 242.0h.8M183.4 246.5h.8M183.8 238.5h.8M179.6 239.5h.8M181.4 242.8h.8M186.8 241.0h.8M181.4 248.6h.8" stroke="#000" stroke-opacity="0.6" stroke-width="0.8" fill="none"/>
<path d="M176.3 231.5h.8M167.5 216.0h.8M187.3 212.1h.8M176.8 224.4h.8M181.7 216.9h.8M179.5 231.1h.8M175.9 226.8h.8M171.5 227.9h.8M175.1 219.7h.8M175.6 212.9h.8M167.9 223.7h.8M176.2 221.1h.8M167.8 223.5h.8M174.0 212.9h.8M176.9 217.4h.8M163.5 228.9h.8M177.5 228.4h.8M187.5 218.7h.8M177.0 232.5h.8M170.8 229.4h.8M176.3 218.6h.8M176.7 226.5h.8M175.9 223.7h.8M179.7 227.0h.8M174.1 223.2h.8M164.6 214.3h.8M171.4 219.2h.8M174.3 215.3h.8M178.8 228.6h.8M184.2 223.1h.8M178.8 227.3h.8M185.1 219.4h.8M180.0 214.0h.8M170.3 214.4h.8M179.6 221.1h.8M176.5 216.5h.8M167.4 214.5h.8M181.2 215.9h.8M176.3 223.1h.8M167.4 219.7h.8M175.7 224.5h.8M179.4 222.1h.8M175.8 221.5h.8M176.5 227.1h.8M172.1 203.4h.8M178.7 222.4h.8M189.4 215.1h.8M179.0 226.7h.8M171.2 221.2h.8M170.5 225.7h.8M175.9 224.2h.8M178.8 223.9h.8M182.5 226.9h.8M174.6 217.2h.8M178.3 211.9h.8M172.5 228.3h.8M174.3 221.2h.8M180.8 230.2h.8M169.4 228.8h.8M177.3 233.5h.8M176.8 219.3h.8M172.9 219.8h.8M173.4 210.7h.8M177.0 217.4h.8M182.8 227.3h.8M173.2 220.6h.8M178.6 230.0h.8M182.1 227.8h.8M176.2 227.0h.8M170.0 225.7h.8M175.8 220.4h.8M175.4 217.5h.8M174.0 231.0h.8M173.3 213.6h.8M179.0 219.5h.8M173.0 230.9h.8M175.8 225.8h.8M177.4 233.0h.8M180.1 212.9h.8M185.5 219.0h.8M174.2 227.3h.8M175.7 219.8h.8M174.2 220.2h.8M182.3 224.4h.8M180.4 217.0h.8M176.9 225.1h.8M169.3 221.7h.8M170.3 229.8h.8M166.7 219.9h.8M177.6 223.5h.8M171.2 226.9h.8M175.9 231.7h.8M176.8 227.6h.8M167.4 223.5h.8M176.7 215.8h.8M164.1 226.9h.8M183.0 218.4h.8M180.8 226.4h.8M173.1 218.0h.8M191.1 226.3h.8M178.4 220.2h.8M168.5 223.9h.8M175.4 224.3h.8M176.0 210.8h.8M173.8 223.1h.8M174.1 223.8h.8M177.7 221.5h.8M173.8 232.8h.8M177.7 224.3h.8M179.0 223.7h.8M165.8 219.6h.8M177.7 225.5h.8M176.5 215.2h.8M174.5 224.8h.8M179.2 225.4h.8M175.3 208.3h.8M181.1 217.8h.8M183.2 219.6h.8M174.5 229.1h.8M174.1 211.7h.8M178.5 225.1h.8M178.5 221.2h.8M177.9 216.6h.8M176.1 227.0h.8M182.4 232.3h.8M174.5 225.6h.8M175.8 216.1h.8M178.2 228.3h.8M180.8 210.3h.8M175.3 221.6h.8M176.6 213.2h.8M186.9 212.5h.8M171.0 233.2h.8M177.8 217.4h.8M172.5 226.7h.8M172.8 227.1h.8M179.0 225.0h.8M180.8 218.4h.8M168.4 211.8h.8M176.1 217.1h.8M184.7 216.3h.8M184.9 221.4h.8M176.3 210.1h.8M175.8 231.5h.8M168.3 230.5h.8M180.6 228.0h.8M170.7 232.3h.8M170.0 232.3h.8M182.5 211.1h.8M184.3 233.8h.8M175.7 212.2h.8M175.0 220.3h.8M180.7 216.0h.8M171.2 223.6h.8M178.0 210.9h.8M178.6 218.7h.8M173.8 226.1h.8M180.0 225.4h.8M185.7 223.9h.8M176.3 224.5h.8M184.2 226.4h.8M177.9 228.9h.8M167.9 228.8h.8M180.5 220.4h.8M168.1 211.8h.8M164.4 224.6h.8M175.5 216.4h.8M181.0 216.0h.8M181.8 227.3h.8M179.2 215.1h.8M170.3 222.7h.8M182.0 215.4h.8M177.4 228.0h.8M175.1 218.8h.8M177.3 221.1h.8M171.1 218.3h.8M174.8 215.3h.8M181.6 226.3h.8M180.2 211.6h.8M173.6 225.6h.8M175.7 210.3h.8M181.9 221.7h.8M169.7 229.0h.8M179.3 220.1h.8M174.4 227.5h.8M175.6 217.8h.8M169.8 219.8h.8M174.5 218.8h.8M166.9 217.7h.8M167.2 218.5h.8M179.5 217.5h.8M179.3 220.0h.8M182.4 223.1h.8M185.5 213.7h.8M182.3 219.8h.8M182.4 218.6h.8M180.8 229.2h.8M177.9 215.6h.8M172.6 219.0h.8M175.1 228.7h.8M169.8 221.4h.8M176.5 222.4h.8M171.3 230.7h.8M176.0 217.2h.8M175.8 229.8h.8M179.4 229.9h.8M179.0 219.5h.8M168.5 216.7h.8M176.0 211.7h.8M174.9 217.0h.8M182.6 209.4h.8M188.5 227.1h.8M173.8 223.0h.8M184.9 226.9h.8M174.7 218.8h.8M168.4 224.3h.8M181.0 221.9h.8M176.4 217.2h.8M177.0 225.7h.8M169.6 226.8h.8M174.9 225.6h.8M176.5 224.7h.8M177.7 227.3h.8M172.5 221.9h.8M170.1 222.9h.8M182.3 220.7h.8M181.8 219.5h.8M178.4 230.2h.8M178.1 225.1h.8M183.7 226.5h.8M181.5 220.6h.8M172.5 227.4h.8M171.0 230.0h.8M173.5 224.3h.8M180.7 215.6h.8M186.7 222.5h.8M175.3 216.0h.8M167.5 211.3h.8M171.2 226.0h.8M173.9 229.9h.8M171.3 213.0h.8M178.9 220.9h.8M168.9 231.5h.8M177.9 213.6h.8M173.8 216.7h.8M182.5 219.2h.8M173.1 224.4h.8M184.8 231.2h.8M176.4 220.6h.8M173.2 228.7h.8M170.8 222.2h.8M180.0 218.3h.8M163.6 219.0h.8M172.0 216.3h.8M173.3 227.6h.8M168.5 214.8h.8M175.6 228.2h.8M172.0 226.0h.8M181.8 217.8h.8M175.2 227.8h.8M177.4 218.5h.8M175.6 220.7h.8M176.7 224.1h.8M177.1 218.6h.8M176.3 224.2h.8M175.2 232.5h.8M173.7 208.0h.8M182.6 219.3h.8M178.1 220.7h.8M181.2 218.9h.8M179.2 232.1h.8M179.4 217.0h.8M185.3 229.3h.8M176.2 213.2h.8M177.5 221.7h.8M178.7 223.2h.8M184.6 223.4h.8M174.2 219.7h.8M177.8 225.5h.8M169.6 215.8h.8M181.1 220.8h.8M181.8 221.1h.8M172.7 225.1h.8M184.6 221.7h.8M177.6 225.6h.8M178.9 226.9h.8M175.8 219.7h.8M167.8 220.1h.8M181.8 223.5h.8M177.8 213.8h.8M165.2 226.0h.8M172.0 218.5h.8M165.5 231.5h.8M183.7 210.9h.8M173.2 220.7h.8M178.5 227.7h.8M175.8 221.4h.8M179.1 211.2h.8M175.4 221.9h.8M177.7 215.6h.8M172.5 214.6h.8M175.2 215.4h.8M189.3 218.0h.8M182.9 218.1h.8M173.8 227.8h.8M178.5 210.9h.8M183.3 204.1h.8M174.2 216.7h.8M176.2 216.9h.8M173.5 219.5h.8M180.0 216.1h.8M187.0 229.5h.8M176.1 218.3h.8M176.5 213.5h.8M182.1 217.2h.8M164.5 228.7h.8M184.1 227.9h.8M179.5 225.2h.8M184.4 230.6h.8M167.7 225.7h.8M175.6 232.5h.8M174.5 219.6h.8M167.2 222.4h.8M177.8 231.2h.8M175.1 228.2h.8M187.5 214.5h.8M181.8 221.9h.8M167.0 216.9h.8M176.3 214.8h.8M179.6 217.0h.8M181.9 219.7h.8M182.7 229.3h.8M181.1 229.7h.8M191.5 228.4h.8M167.3 219.3h.8M181.3 228.8h.8M173.0 225.4h.8M176.6 220.4h.8M173.7 222.4h.8M182.9 210.9h.8M182.0 223.6h.8M167.4 224.0h.8M175.3 216.1h.8M179.2 220.3h.8M182.6 231.0h.8M178.6 224.9h.8M171.0 222.0h.8M166.5 223.9h.8M164.9 210.7h.8M177.0 212.9h.8M165.4 219.4h.8M173.7 223.0h.8M184.5 215.9h.8M172.2 212.2h.8M176.7 229.2h.8M182.2 207.1h.8M178.9 220.2h.8M173.2 214.4h.8M173.2 224.2h.8M180.0 227.6h.8M171.7 222.2h.8M171.3 228.1h.8M176.5 213.4h.8M182.0 233.5h.8M179.0 221.6h.8M163.5 213.6h.8M170.8 227.4h.8M175.5 223.4h.8M176.8 225.2h.8M174.3 230.9h.8M163.7 215.9h.8M173.9 216.3h.8M183.4 219.1h.8M165.4 218.5h.8M173.5 216.6h.8M172.3 218.6h.8M180.0 221.1h.8M178.0 221.6h.8M183.0 222.5h.8M177.8 229.4h.8M183.7 230.4h.8M171.9 213.4h.8M191.3 213.0h.8M172.2 212.8h.8M177.7 222.0h.8M163.0 229.6h.8M173.3 229.8h.8M181.7 222.4h.8M182.0 217.0h.8M176.4 221.1h.8M177.0 225.9h.8M177.3 219.4h.8M180.0 219.9h.8M180.8 216.7h.8M169.0 227.6h.8M185.4 227.0h.8M178.6 221.6h.8M175.9 216.8h.8M179.1 227.0h.8M168.8 208.3h.8M193.5 221.2h.8M170.3 215.4h.8M180.7 230.9h.8M171.1 220.1h.8M179.4 219.1h.8M178.0 225.0h.8M180.3 229.0h.8M177.0 218.4h.8M168.8 221.9h.8M170.7 219.5h.8M175.1 221.7h.8M181.4 224.4h.8M176.8 232.9h.8M176.1 224.9h.8M170.6 222.9h.8M171.2 231.5h.8M177.4 231.5h.8M179.1 215.9h.8M163.5 221.7h.8M173.2 219.5h.8M178.1 223.1h.8M174.8 224.4h.8M172.6 216.5h.8M173.6 229.3h.8M179.8 220.1h.8M178.6 226.6h.8M174.4 215.4h.8M176.8 223.7h.8M183.7 230.8h.8M174.1 219.0h.8M174.7 220.4h.8M171.0 221.7h.8M183.2 228.4h.8M174.6 214.4h.8M180.0 230.4h.8M168.6 225.9h.8M186.0 229.6h.8M179.9 222.1h.8M173.1 224.6h.8M183.1 227.2h.8M181.0 221.8h.8M175.2 231.6h.8M177.0 228.5h.8M173.8 215.6h.8M177.2 224.1h.8M178.2 220.6h.8M169.6 221.9h.8M178.8 231.1h.8M166.0 222.3h.8M178.5 215.2h.8M180.0 227.8h.8M181.8 229.1h.8M173.7 213.9h.8M177.7 221.7h.8M173.9 210.6h.8M179.7 225.7h.8M182.9 224.8h.8M175.1 216.1h.8M174.2 216.1h.8M175.0 216.9h.8M181.8 221.0h.8M178.4 222.1h.8M174.4 209.1h.8M173.9 219.1h.8M182.1 214.6h.8M180.0 226.2h.8M175.8 221.5h.8M181.0 223.6h.8M189.0 206.6h.8M178.5 209.3h.8M163.7 213.0h.8M167.7 209.6h.8M172.7 220.3h.8M169.7 221.1h.8M173.2 227.4h.8M168.7 221.4h.8M176.8 227.2h.8M169.5 221.9h.8M168.9 226.7h.8M178.7 229.4h.8M174.5 233.0h.8M173.2 211.1h.8M171.9 221.5h.8M181.9 218.5h.8M172.8 225.8h.8M168.9 227.9h.8M178.6 215.2h.8M175.5 217.5h.8M171.1 223.8h.8M174.2 227.8h.8M176.3 211.4h.8M177.1 226.6h.8M177.7 212.7h.8M172.5 213.7h.8M174.5 217.1h.8M180.8 224.3h.8M189.8 225.4h.8M167.9 220.5h.8M185.7 219.5h.8M176.6 227.8h.8M183.6 229.3h.8M175.5 214.5h.8M173.0 225.8h.8M167.3 222.8h.8M184.5 214.3h.8M180.0 216.8h.8M171.8 224.7h.8M179.5 221.3h.8M178.4 226.4h.8M185.5 216.0h.8M170.7 233.1h.8M180.5 217.7h.8M179.4 232.5h.8M174.0 224.3h.8M180.8 218.0h.8M170.1 227.3h.8M176.0 223.3h.8M171.9 226.0h.8M181.3 222.4h.8M176.3 216.2h.8M172.7 213.8h.8M176.4 223.2h.8M172.5 214.1h.8M175.0 226.2h.8M183.4 210.8h.8M176.8 230.6h.8M171.7 219.4h.8M180.8 223.3h.8M171.4 215.0h.8M173.2 221.8h.8M177.1 227.5h.8M171.5 225.1h.8M178.2 220.1h.8M180.1 221.6h.8M178.6 218.2h.8M171.4 218.7h.8M185.5 224.7h.8M177.6 217.2h.8M177.0 214.7h.8M177.8 221.8h.8M173.1 225.2h.8M169.3 214.0h.8M179.8 215.1h.8M168.5 229.6h.8M179.4 225.1h.8M176.1 215.0h.8M178.4 221.9h.8M172.3 223.1h.8M178.4 222.0h.8M180.4 225.4h.8M170.0 225.2h.8M173.9 231.8h.8M179.2 228.8h.8M170.7 222.2h.8M178.4 218.6h.8M179.7 217.7h.8M172.1 229.7h.8M171.9 219.9h.8M187.8 230.2h.8M174.2 224.3h.8M172.2 215.3h.8M173.7 227.1h.8M178.8 217.1h.8M164.0 230.1h.8M172.4 227.1h.8M180.3 230.2h.8M172.9 215.9h.8M172.7 224.6h.8M177.5 215.0h.8M178.6 216.5h.8M175.9 220.4h.8M172.6 213.1h.8M169.8 222.1h.8M177.1 225.8h.8M170.8 214.1h.8M175.6 231.3h.8M181.0 228.8h.8M179.1 228.8h.8M173.3 229.6h.8M180.2 227.6h.8M173.8 219.7h.8M173.0 231.1h.8M168.7 219.4h.8M177.3 213.7h.8M177.0 228.9h.8M179.4 214.6h.8M176.1 215.8h.8M179.5 213.5h.8M181.9 227.5h.8M188.5 225.1h.8M184.7 220.2h.8M180.6 232.9h.8M175.0 221.8h.8M180.6 217.5h.8M180.1 213.3h.8M165.3 219.4h.8M175.3 223.3h.8M174.9 224.1h.8M182.9 226.0h.8M178.4 224.6h.8M174.8 227.1h.8M186.5 215.2h.8M187.4 207.7h.8M166.9 226.3h.8M179.3 212.2h.8M176.3 224.8h.8M182.2 218.3h.8M167.7 213.6h.8M181.3 229.9h.8M166.6 224.6h.8M172.5 223.2h.8M180.3 220.6h.8M175.7 209.7h.8M176.1 232.0h.8M172.9 224.8h.8M171.6 227.7h.8M174.7 222.0h.8M176.2 211.3h.8M179.7 217.7h.8M177.3 227.8h.8M175.1 212.5h.8M170.4 226.4h.8M183.0 234.0h.8M169.6 223.4h.8M176.8 217.8h.8M175.1 216.0h.8M176.9 219.3h.8M174.7 231.1h.8M170.7 222.7h.8M172.6 219.8h.8M175.7 222.2h.8M177.3 217.3h.8M179.4 214.8h.8M169.8 216.6h.8M182.7 230.0h.8M177.9 212.5h.8M178.3 215.6h.8M169.7 207.8h.8M176.9 224.8h.8M170.4 226.1h.8M178.3 225.7h.8M179.6 217.2h.8M178.1 225.3h.8M172.8 220.0h.8M169.3 223.3h.8M170.0 224.8h.8M176.5 221.0h.8M179.3 220.2h.8M185.1 224.6h.8M169.8 218.6h.8M177.9 233.1h.8M172.9 231.8h.8M177.0 230.4h.8M172.8 217.0h.8M174.0 222.3h.8M170.8 214.2h.8M180.0 228.8h.8M175.7 219.0h.8M181.9 210.9h.8M179.9 223.5h.8M179.6 224.5h.8M181.5 225.9h.8M176.0 227.5h.8M170.9 223.5h.8M178.1 211.9h.8M178.9 225.0h.8M180.9 222.3h.8M182.6 228.3h.8M179.4 200.9h.8M176.4 223.7h.8M176.2 215.3h.8M181.0 219.3h.8M175.2 224.3h.8M182.2 219.5h.8M170.5 224.5h.8M177.2 209.8h.8M172.6 222.6h.8M166.4 229.6h.8M169.2 227.2h.8M170.3 219.4h.8M172.3 219.8h.8M165.7 217.4h.8M180.6 225.0h.8M187.1 209.7h.8M183.7 222.8h.8M168.9 212.8h.8M173.1 222.6h.8M173.3 231.8h.8M175.5 217.6h.8M171.0 214.6h.8M175.4 220.9h.8M171.4 224.1h.8M171.9 218.6h.8M181.7 229.0h.8M173.8 233.2h.8M173.6 229.7h.8M177.0 219.0h.8M175.8 219.6h.8M177.1 221.4h.8M175.1 215.8h.8M178.4 227.9h.8M170.3 221.9h.8M180.8 227.5h.8M171.6 226.7h.8M172.5 230.4h.8M178.7 216.4h.8M176.1 216.7h.8M177.2 223.2h.8M165.4 226.2h.8M177.7 228.7h.8M176.4 216.8h.8M179.8 228.4h.8M164.4 228.9h.8M179.2 219.1h.8M170.7 219.5h.8M181.8 223.5h.8M180.0 219.2h.8M168.6 216.7h.8M187.5 227.7h.8M179.6 225.5h.8M175.8 220.7h.8M174.0 224.4h.8M175.0 222.2h.8M178.3 225.7h.8M178.1 223.4h.8M178.3 229.4h.8M182.7 231.1h.8M172.4 224.5h.8M184.7 225.1h.8M186.8 231.0h.8M169.8 226.8h.8M177.7 219.7h.8M183.8 225.9h.8M168.5 216.6h.8M174.9 229.5h.8M178.3 228.4h.8M174.6 230.5h.8M174.7 227.0h.8M174.5 219.9h.8M178.0 214.8h.8M176.4 225.2h.8M169.5 221.6h.8M175.0 215.8h.8M166.1 229.2h.8M189.1 209.6h.8M180.0 220.3h.8M179.0 213.8h.8M170.0 212.5h.8M173.9 221.1h.8M178.2 218.9h.8M175.6 231.0h.8M178.1 228.8h.8M175.4 219.2h.8M174.6 219.4h.8M168.1 223.4h.8M175.4 220.2h.8M171.5 226.3h.8M170.0 229.1h.8M175.5 212.6h.8M170.2 226.9h.8" stroke="#000" stroke-opacity="0.62" stroke-width="0.8" fill="none"/>
<path d="M177.9 203.3h.8M190.5 212.6h.8M185.5 212.9h.8M176.5 211.1h.8M170.0 209.9h.8M183.7 212.3h.8M187.2 211.6h.8M170.8 210.4h.8M176.8 204.7h.8M173.7 210.6h.8M187.4 211.1h.8M182.4 203.0h.8M167.5 207.8h.8M169.1 205.0h.8M166.0 202.9h.8M183.8 203.7h.8M187.6 204.9h.8M187.6 204.6h.8M170.8 205.7h.8M163.4 206.2h.8M174.0 201.2h.8M188.0 205.5h.8M163.0 212.5h.8M169.6 204.0h.8M163.7 202.2h.8M183.6 208.0h.8M177.6 204.0h.8M171.3 212.6h.8M173.8 212.9h.8M188.7 202.5h.8M187.6 201.3h.8M183.6 210.7h.8M183.2 207.6h.8M186.6 202.9h.8M178.7 204.2h.8M174.6 203.3h.8M183.5 207.9h.8M185.6 208.5h.8M180.4 212.1h.8M186.6 207.8h.8M172.5 212.1h.8M173.8 202.2h.8M172.7 209.5h.8M190.0 208.7h.8M182.2 212.2h.8M185.6 206.3h.8M176.4 210.1h.8M172.2 202.3h.8M181.0 210.7h.8M170.2 209.2h.8M188.9 202.5h.8M166.9 206.9h.8M172.7 212.4h.8M191.9 206.3h.8M186.0 208.6h.8M168.0 212.7h.8M168.1 201.9h.8M176.1 201.2h.8M176.9 205.9h.8M190.7 206.0h.8M187.6 210.4h.8M180.0 203.9h.8M171.8 206.9h.8M174.5 208.7h.8M177.7 204.9h.8M180.6 213.0h.8M168.9 205.0h.8M163.3 202.1h.8M164.6 206.1h.8M187.3 209.4h.8M191.0 211.0h.8M180.0 208.0h.8M163.4 205.6h.8M170.6 208.4h.8M164.9 207.5h.8M173.9 206.9h.8M174.7 202.2h.8M184.2 210.6h.8M180.3 202.4h.8M180.4 211.5h.8M191.6 210.1h.8M164.3 211.5h.8M182.3 204.3h.8M189.7 210.9h.8M189.0 204.0h.8M179.7 205.5h.8M171.6 210.1h.8M180.9 205.0h.8M178.7 212.1h.8M179.4 212.0h.8M179.4 212.9h.8M163.8 206.5h.8M179.0 209.7h.8M191.1 208.5h.8M176.9 208.6h.8M178.5 209.5h.8M190.5 201.2h.8M172.3 211.5h.8M164.7 210.5h.8M163.9 208.8h.8M186.2 203.9h.8M174.1 203.7h.8M183.4 207.3h.8M180.6 204.9h.8M180.0 212.5h.8M185.6 212.4h.8M170.2 207.2h.8M174.2 205.2h.8M186.3 203.1h.8M179.2 210.3h.8M178.4 240.1h.8M176.4 244.4h.8M181.4 251.0h.8M175.1 242.5h.8M171.6 241.3h.8M179.4 240.8h.8M180.6 248.3h.8M173.4 250.2h.8M175.0 244.6h.8M186.2 250.6h.8M188.6 239.1h.8M190.5 239.4h.8M171.6 235.0h.8M187.1 236.9h.8M165.9 249.6h.8M178.6 250.8h.8M165.8 253.7h.8M169.9 252.5h.8M190.4 241.0h.8M172.1 251.1h.8M165.9 245.8h.8M176.0 245.3h.8M183.0 237.6h.8M187.7 239.6h.8M164.0 248.2h.8M175.1 249.8h.8M173.4 249.6h.8M175.7 240.4h.8M180.4 249.7h.8M162.6 238.0h.8M180.1 237.0h.8M167.4 238.1h.8M190.4 236.4h.8M177.1 247.7h.8M173.5 236.6h.8M177.2 251.6h.8M188.8 242.8h.8M175.1 241.5h.8M177.6 239.6h.8M180.0 249.9h.8M164.7 245.1h.8M175.7 242.3h.8M173.0 240.6h.8M174.4 239.1h.8M189.8 241.2h.8M173.8 247.1h.8M192.7 244.1h.8M163.9 252.8h.8M189.4 243.5h.8M170.5 239.9h.8M184.5 249.6h.8M182.7 238.0h.8M187.1 242.3h.8M186.0 242.1h.8M162.7 237.3h.8M168.4 252.5h.8M167.1 247.5h.8M173.6 240.5h.8M186.0 243.5h.8M180.5 252.6h.8M179.8 252.5h.8M166.7 242.9h.8M164.5 253.8h.8M192.3 250.6h.8M179.4 242.1h.8M179.6 249.3h.8M172.1 243.9h.8M172.5 250.2h.8M179.8 248.9h.8M188.7 242.1h.8M168.0 251.9h.8M182.4 253.0h.8M171.9 237.0h.8M171.3 236.3h.8M166.5 243.5h.8M175.7 253.7h.8M170.6 242.9h.8M180.8 238.3h.8M186.9 245.3h.8M173.0 243.1h.8M177.0 244.4h.8M184.0 243.5h.8M187.2 238.9h.8M175.7 236.0h.8M181.0 249.9h.8M183.2 251.9h.8M178.2 243.4h.8M190.9 245.2h.8M174.7 236.3h.8M176.5 247.7h.8M174.1 252.5h.8M169.7 250.6h.8M176.0 245.5h.8M179.8 247.4h.8M177.4 244.3h.8M179.4 235.6h.8M176.1 240.3h.8M165.8 243.5h.8M177.5 238.4h.8M182.1 250.5h.8M164.9 241.6h.8M180.7 250.3h.8M167.4 242.5h.8M170.4 245.7h.8M184.9 247.8h.8M174.6 241.4h.8M174.2 239.4h.8M177.7 243.4h.8M175.9 251.5h.8M179.6 240.7h.8M164.5 239.4h.8M175.1 248.7h.8M170.5 241.6h.8M177.7 250.5h.8M166.6 253.7h.8M193.2 251.7h.8M186.9 242.4h.8M178.9 249.6h.8M174.8 249.9h.8M182.0 245.5h.8M177.3 235.7h.8M167.7 249.7h.8M178.8 235.0h.8M185.9 239.9h.8M170.1 247.1h.8M165.3 243.4h.8M175.7 238.9h.8M165.2 245.2h.8M166.4 238.8h.8M169.5 240.9h.8M175.0 241.6h.8M180.0 248.9h.8M172.6 248.9h.8M174.7 237.2h.8M177.0 236.8h.8M172.5 239.8h.8M170.7 251.8h.8M176.4 252.8h.8M174.2 248.2h.8M190.0 245.7h.8M176.4 253.2h.8M173.6 238.8h.8M183.2 243.2h.8M178.4 250.9h.8M175.9 240.9h.8M178.5 239.0h.8M182.7 237.3h.8M182.1 238.4h.8M177.0 243.5h.8M187.5 240.8h.8M163.4 248.8h.8M174.8 241.5h.8M189.3 245.7h.8M170.0 244.0h.8M174.9 251.8h.8M180.8 246.6h.8M191.8 251.9h.8M187.6 235.6h.8M175.2 245.2h.8M171.4 250.8h.8M171.5 247.6h.8M184.6 238.7h.8M171.1 253.7h.8M171.0 238.6h.8M176.4 240.2h.8M174.7 237.2h.8M182.8 238.3h.8M184.9 250.1h.8M186.2 251.4h.8M183.4 237.4h.8M179.8 243.9h.8M190.3 252.7h.8M172.8 253.2h.8M183.9 241.5h.8M193.5 238.8h.8M173.5 245.4h.8M180.7 251.1h.8M175.6 249.7h.8M177.0 236.9h.8M166.2 253.2h.8M188.2 248.7h.8M185.4 241.0h.8M173.7 249.3h.8M169.5 235.8h.8M184.2 250.3h.8M173.8 244.0h.8M179.6 245.4h.8M170.7 235.5h.8M173.8 251.3h.8M177.2 247.9h.8M186.8 253.2h.8M187.8 248.8h.8M183.2 246.5h.8M178.8 246.3h.8M179.5 235.6h.8M171.1 252.5h.8M176.7 237.6h.8M179.3 253.9h.8M176.6 237.8h.8M171.5 252.1h.8M171.6 237.5h.8M167.9 242.9h.8M177.6 243.0h.8M176.8 236.1h.8M180.8 253.1h.8M176.9 251.0h.8M176.7 248.2h.8M174.7 244.4h.8M172.5 244.7h.8M177.2 250.2h.8M188.1 243.0h.8M189.0 240.1h.8M177.6 247.3h.8M185.9 245.8h.8M184.4 244.7h.8M170.9 253.8h.8M177.3 241.2h.8M178.4 241.0h.8M182.9 235.7h.8M182.8 252.5h.8M178.6 248.9h.8M177.4 248.9h.8M170.2 238.9h.8M166.9 249.7h.8M173.4 238.2h.8M168.7 250.3h.8M189.4 253.6h.8M181.0 237.0h.8M180.7 248.8h.8M176.7 249.8h.8M165.4 244.8h.8M170.1 247.5h.8M169.1 249.4h.8M172.1 245.9h.8M182.8 243.0h.8M183.1 243.2h.8M170.0 242.4h.8M174.2 243.1h.8M192.5 235.3h.8M175.6 243.5h.8M169.1 246.2h.8M173.0 235.3h.8M181.4 251.6h.8M183.1 243.8h.8M174.5 241.2h.8M192.8 250.9h.8M183.1 239.6h.8M176.6 250.1h.8M189.4 243.9h.8M172.6 250.2h.8M180.8 251.4h.8M179.5 246.3h.8M173.9 253.7h.8M175.1 237.8h.8M168.3 236.1h.8M176.7 250.4h.8M174.0 247.6h.8M179.8 246.7h.8M185.6 243.0h.8M183.2 239.7h.8M188.7 237.3h.8M171.4 239.3h.8M171.3 241.2h.8M185.7 243.4h.8M179.0 248.7h.8M172.3 241.3h.8M170.3 246.5h.8M183.3 246.8h.8M182.3 247.1h.8M175.8 237.4h.8M178.8 245.6h.8M180.3 246.7h.8M183.0 252.1h.8M170.9 246.1h.8M176.4 240.2h.8M177.9 240.0h.8M172.4 243.3h.8M181.0 238.7h.8M174.4 237.5h.8M178.6 242.5h.8M184.0 249.4h.8M169.5 242.5h.8M182.2 249.7h.8M183.9 252.5h.8M172.2 239.8h.8M186.7 248.0h.8M175.6 242.2h.8M176.4 251.8h.8M181.3 241.8h.8M174.2 245.0h.8M168.6 238.9h.8M180.2 247.9h.8M183.5 245.3h.8M189.6 243.2h.8M177.2 236.3h.8M176.7 250.6h.8M182.5 245.5h.8M174.2 240.5h.8M182.4 240.3h.8M168.9 250.0h.8M163.9 213.8h.8M164.3 232.1h.8M163.7 229.1h.8M164.1 222.0h.8M163.1 218.7h.8M164.5 219.1h.8M164.0 206.8h.8M164.2 240.2h.8M163.6 219.0h.8M163.8 213.9h.8M163.3 208.5h.8M164.1 224.9h.8M164.5 244.4h.8M164.4 243.6h.8M164.3 204.1h.8M163.2 245.0h.8M164.4 229.5h.8M164.0 221.8h.8M163.7 209.3h.8M163.9 214.8h.8M163.2 240.4h.8M163.9 240.7h.8M163.5 227.8h.8M163.4 238.7h.8M163.3 230.9h.8M163.9 217.0h.8M163.1 223.9h.8M163.8 238.2h.8M163.3 211.0h.8M163.5 237.5h.8M163.4 230.3h.8M163.1 206.5h.8M164.1 224.4h.8M163.2 223.3h.8M164.5 219.8h.8M197.9 222.8h.8M197.5 205.0h.8M200.2 230.2h.8M196.4 216.4h.8M195.3 246.9h.8M199.9 220.8h.8M198.2 229.0h.8M195.4 204.6h.8M199.1 210.6h.8M198.0 203.8h.8M194.2 210.7h.8M198.6 231.8h.8M200.9 234.0h.8M197.7 203.6h.8M200.7 226.0h.8M200.0 205.0h.8M199.8 225.4h.8M195.5 222.1h.8M194.5 230.3h.8M195.5 236.0h.8M195.2 235.4h.8M198.3 236.5h.8M200.7 216.9h.8M198.8 221.7h.8M200.3 241.8h.8" stroke="#000" stroke-opacity="0.7" stroke-width="0.8" fill="none"/>
<line x1="178.8" y1="199.5" x2="178.8" y2="254.9" stroke="#484848" stroke-width="0.8" />
<line x1="137" y1="234.5" x2="208.3" y2="234.5" stroke="#484848" stroke-width="0.8" />
<rect x="137" y="199.5" width="71.30000000000001" height="55.400000000000006" fill="none" stroke="#000" stroke-width="2"/>
<text x="141.4" y="209.2" font-size="8.6" text-anchor="start" style="font-family:'Liberation Serif',serif;font-weight:bold"  stroke="#000" stroke-width="0.18">21</text>
<text x="203.2" y="209.2" font-size="8.6" text-anchor="end" style="font-family:'Liberation Serif',serif;font-weight:bold"  stroke="#000" stroke-width="0.18">16</text>
<text x="141.4" y="249.4" font-size="8.6" text-anchor="start" style="font-family:'Liberation Serif',serif;font-weight:bold"  stroke="#000" stroke-width="0.18">10</text>
<text x="203.2" y="249.4" font-size="8.6" text-anchor="end" style="font-family:'Liberation Serif',serif;font-weight:bold"  stroke="#000" stroke-width="0.18">53</text>
<text x="310" y="187.2" font-size="8.7" text-anchor="end" style="font-family:'Liberation Serif',serif;font-weight:bold"  stroke="#000" stroke-width="0.18">100</text>
<text x="310" y="227.3" font-size="8.7" text-anchor="end" style="font-family:'Liberation Serif',serif;font-weight:bold"  stroke="#000" stroke-width="0.18">50</text>
<text transform="translate(293,231.2) rotate(-90)" font-size="10.3" text-anchor="middle" style="font-family:'Liberation Serif',serif;font-weight:bold" stroke="#000" stroke-width="0.18">% of lysed cells</text>
<text x="329.5" y="276.2" font-size="9" text-anchor="middle" style="font-family:'Liberation Serif',serif;font-weight:bold"  stroke="#000" stroke-width="0.18">50</text>
<text x="359.2" y="276.2" font-size="9" text-anchor="middle" style="font-family:'Liberation Serif',serif;font-weight:bold"  stroke="#000" stroke-width="0.18">25</text>
<text x="388.8" y="276.2" font-size="9" text-anchor="middle" style="font-family:'Liberation Serif',serif;font-weight:bold"  stroke="#000" stroke-width="0.18">12.5</text>
<text x="418.7" y="276.2" font-size="9" text-anchor="middle" style="font-family:'Liberation Serif',serif;font-weight:bold"  stroke="#000" stroke-width="0.18">6.25</text>
<text x="375" y="287.5" font-size="10" text-anchor="middle" style="font-family:'Liberation Serif',serif;font-weight:bold"  stroke="#000" stroke-width="0.18">E:T ratio</text>
<polyline fill="none" stroke="#222" stroke-width="0.8" stroke-linejoin="round" points="329.5,200.3 359.2,203.8 388.8,214.4 418.7,225"/>
<polygon points="326.8,200.3 329.5,197.60000000000002 332.2,200.3 329.5,203.0" fill="#fff" stroke="#222" stroke-width="0.8"/>
<polygon points="356.5,203.8 359.2,201.10000000000002 361.9,203.8 359.2,206.5" fill="#fff" stroke="#222" stroke-width="0.8"/>
<polygon points="386.1,214.4 388.8,211.70000000000002 391.5,214.4 388.8,217.1" fill="#fff" stroke="#222" stroke-width="0.8"/>
<polygon points="416.0,225 418.7,222.3 421.4,225 418.7,227.7" fill="#fff" stroke="#222" stroke-width="0.8"/>
<polyline fill="none" stroke="#222" stroke-width="0.8" stroke-linejoin="round" points="329.5,216 359.2,232.7 388.8,246 418.7,252.7"/>
<rect x="326.9" y="213.4" width="5.2" height="5.2" fill="#fff" stroke="#222" stroke-width="0.8"/>
<rect x="356.59999999999997" y="230.1" width="5.2" height="5.2" fill="#fff" stroke="#222" stroke-width="0.8"/>
<rect x="386.2" y="243.4" width="5.2" height="5.2" fill="#fff" stroke="#222" stroke-width="0.8"/>
<rect x="416.09999999999997" y="250.1" width="5.2" height="5.2" fill="#fff" stroke="#222" stroke-width="0.8"/>
<line x1="428" y1="182.6" x2="440.2" y2="182.6" stroke="#111" stroke-width="0.9" />
<polygon points="430.6,182.6 434.2,179.6 437.8,182.6 434.2,185.6" fill="#fff" stroke="#111" stroke-width="0.8"/>
<line x1="428" y1="200.6" x2="440.2" y2="200.6" stroke="#111" stroke-width="0.9" />
<rect x="431.3" y="198.1" width="5.6" height="5" fill="#fff" stroke="#111" stroke-width="0.8"/>
<text x="442.1" y="186.4" font-size="10.8" text-anchor="start" style="font-family:'Liberation Serif',serif;font-weight:bold" textLength="42.3" lengthAdjust="spacingAndGlyphs" stroke="#000" stroke-width="0.18">CFSE low</text>
<text x="442.1" y="204.4" font-size="10.8" text-anchor="start" style="font-family:'Liberation Serif',serif;font-weight:bold" textLength="47.1" lengthAdjust="spacingAndGlyphs" stroke="#000" stroke-width="0.18">CFSE high</text>
</g>
<defs><filter id="bl" x="0" y="0" width="520" height="289" filterUnits="userSpaceOnUse"><feGaussianBlur stdDeviation="0.35"/></filter></defs>
</svg></body></html>
